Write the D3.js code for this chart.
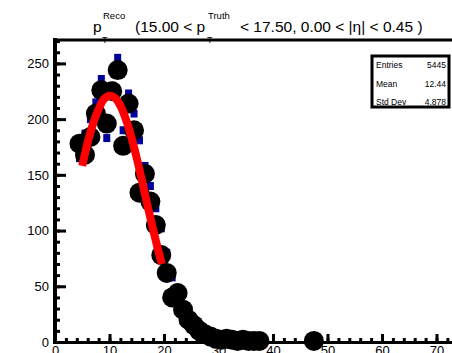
<!DOCTYPE html>
<meta charset="utf-8">
<style>
body { margin: 0; padding: 0; background: #fff; overflow: hidden; }
svg { font-family: "Liberation Sans", Helvetica, Arial, sans-serif; }
.axis text { font-size: 13px; fill: #000; }
</style>
<body>
<svg id="chart" width="452" height="353"></svg>
<script src="https://cdnjs.cloudflare.com/ajax/libs/d3/7.8.5/d3.min.js"></script>
<script>

// histogram bin centres (GeV) and counts
var binCenters = [4.5, 5.5, 6.5, 7.5, 8.5, 9.5, 10.5, 11.5, 12.5, 13.5, 14.5, 15.5, 16.5, 17.5,
                  18.5, 19.5, 20.5, 21.5, 22.5, 23.5, 24.5, 25.5, 26.5, 27.5, 28.5, 29.5,
                  30.5, 31.5, 32.5, 33.5, 34.5, 35.5, 36.5, 37.5, 47.5];
var recoCounts = [178, 168, 184, 205, 226, 196, 225, 244, 176, 214, 190, 134, 151, 126,
                  105, 78, 62, 40, 44, 29, 20, 15, 10, 7, 5, 3,
                  2, 3, 2, 1, 2, 1, 1, 1, 1];
// second (blue) histogram, mostly hidden under the black markers
var blueCounts = [165, 187, 200, 215, 236, 183, 230, 255, 190, 223, 205, 181, 158, 140,
                  120, 102, 80, 58, 42, 30, 20, 15, 10, 7, 5, 3,
                  2, 3, 2, 1, 2, 1, 1, 1, 1];

// gaussian fit curve
var fitX = [5, 6, 7, 8, 9, 10, 11, 12, 13, 14, 15, 16, 17, 18, 19, 19.6];
var fitY = [158, 179, 196, 209, 218, 221, 219, 212, 200, 184, 165, 144, 122, 101, 81, 70];

var xTicks = [0, 10, 20, 30, 40, 50, 60, 70, 80];
var yTicks = [0, 50, 100, 150, 200, 250];

var statNames = ["Entries", "Mean", "Std Dev"];
var statValues = ["5445", "12.44", "4.878"];

var svg = d3.select("#chart");

var x = d3.scaleLinear().domain([0, 80]).range([55, 491]);
var y = d3.scaleLinear().domain([0, 271]).range([342, 40]);

// frame top line
svg.append("line")
  .attr("x1", 54).attr("x2", 452)
  .attr("y1", 40).attr("y2", 40)
  .attr("stroke", "#000").attr("stroke-width", 3);

// y axis, ROOT style ticks pointing inwards
var yMinor = d3.range(0, 271, 10);
svg.append("g")
  .attr("transform", "translate(55,0)")
  .call(d3.axisLeft(y).tickValues(yMinor).tickSize(-5).tickSizeOuter(0).tickFormat(""))
  .call(function(g) { g.selectAll("line").attr("stroke-width", 3); });

var yAx = svg.append("g")
  .attr("class", "axis")
  .attr("transform", "translate(55,0)")
  .call(d3.axisLeft(y).tickValues(yTicks).tickSize(-11).tickSizeOuter(0).tickPadding(6));
yAx.selectAll("line").attr("stroke-width", 3);
yAx.select(".domain").attr("stroke-width", 4).attr("d", "M0,38V344");

// x axis
var xMinor = d3.range(0, 81, 2);
svg.append("g")
  .attr("transform", "translate(0,342)")
  .call(d3.axisBottom(x).tickValues(xMinor).tickSize(-4).tickSizeOuter(0).tickFormat(""))
  .call(function(g) { g.selectAll("line").attr("stroke-width", 3); });

var xAx = svg.append("g")
  .attr("class", "axis")
  .attr("transform", "translate(0,342)")
  .call(d3.axisBottom(x).tickValues(xTicks).tickSize(-8).tickSizeOuter(0).tickPadding(2));
xAx.selectAll("line").attr("stroke-width", 3);
xAx.select(".domain").attr("stroke-width", 3);
xAx.selectAll("text").attr("dy", "0.85em");

// blue squares
svg.append("g").selectAll("rect")
  .data(binCenters)
  .join("rect")
  .attr("x", function(d) { return x(d) - 3.5; })
  .attr("y", function(d, i) { return y(blueCounts[i]) - 4; })
  .attr("width", 7)
  .attr("height", 8)
  .attr("fill", "#00009a");

// black markers
svg.append("g").selectAll("circle")
  .data(binCenters)
  .join("circle")
  .attr("cx", function(d) { return x(d); })
  .attr("cy", function(d, i) { return y(recoCounts[i]); })
  .attr("r", 10)
  .attr("fill", "#000");

// fit
var line = d3.line()
  .x(function(d) { return x(d); })
  .y(function(d, i) { return y(fitY[i]); })
  .curve(d3.curveCatmullRom);
svg.append("path")
  .attr("d", line(fitX))
  .attr("fill", "none")
  .attr("stroke", "#ff0000")
  .attr("stroke-width", 8);

// stats box
var box = svg.append("g").attr("transform", "translate(372,56)");
box.append("rect")
  .attr("x", 0).attr("y", 0)
  .attr("width", 77).attr("height", 51)
  .attr("fill", "#fff")
  .attr("stroke", "#000").attr("stroke-width", 3);
statNames.forEach(function(n, i) {
  box.append("text").attr("x", 4).attr("y", 12 + i * 18.5)
    .attr("font-size", 8.5).text(n);
  box.append("text").attr("x", 74).attr("y", 12 + i * 18.5)
    .attr("font-size", 8.5).attr("text-anchor", "end").text(statValues[i]);
});

// title
var t = svg.append("g").attr("font-size", 15.5);
t.append("text").attr("x", 93).attr("y", 32).text("p");
t.append("text").attr("x", 103).attr("y", 19).attr("font-size", 9.5).text("Reco");
t.append("text").attr("x", 102).attr("y", 43).attr("font-size", 9).text("T");
t.append("text").attr("x", 135).attr("y", 32).text("(15.00 < p");
t.append("text").attr("x", 208).attr("y", 19).attr("font-size", 9.5).text("Truth");
t.append("text").attr("x", 207).attr("y", 43).attr("font-size", 9).text("T");
t.append("text").attr("x", 240).attr("y", 32).text("< 17.50, 0.00 < |\u03b7| < 0.45 )");

</script>
</body>
